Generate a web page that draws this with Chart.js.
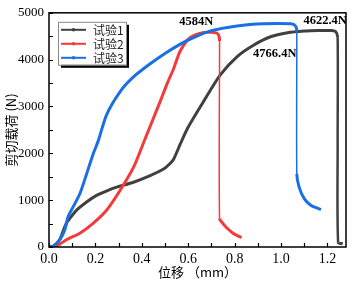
<!DOCTYPE html>
<html>
<head>
<meta charset="utf-8">
<script src="https://cdn.jsdelivr.net/npm/chart.js@4.4.0/dist/chart.umd.min.js"></script>
<style>
  html, body { margin: 0; padding: 0; background: #fff; }
  #wrap { width: 354px; height: 283px; }
</style>
</head>
<body>
<div id="wrap"><canvas id="c"></canvas></div>
<script>
// series names
var seriesNames = ['试验1', '试验2', '试验3'];

// 试验1 (black)
var t1X = [0, 0.02, 0.046, 0.06, 0.075, 0.09, 0.119, 0.162, 0.205, 0.25, 0.292, 0.364, 0.436, 0.494, 0.515, 0.537, 0.566, 0.60, 0.667, 0.739, 0.811, 0.883, 0.955, 1.028, 1.10, 1.16, 1.215, 1.235, 1.244, 1.244, 1.246, 1.266];
var t1Y = [0, 20, 154, 330, 506, 611, 786, 961, 1102, 1200, 1277, 1383, 1523, 1664, 1750, 1875, 2200, 2560, 3114, 3679, 4066, 4313, 4488, 4573, 4610, 4622, 4622, 4600, 4480, 2200, 100, 70];

// 试验2 (red)
var t2X = [0, 0.017, 0.04, 0.075, 0.133, 0.19, 0.248, 0.306, 0.364, 0.407, 0.45, 0.479, 0.51, 0.537, 0.566, 0.609, 0.667, 0.70, 0.725, 0.733, 0.735, 0.735, 0.75, 0.768, 0.797, 0.83];
var t2Y = [0, 0, 40, 154, 295, 506, 786, 1207, 1699, 2220, 2750, 3104, 3500, 3806, 4190, 4473, 4578, 4584, 4564, 4500, 4400, 611, 500, 400, 280, 202];

// 试验3 (blue)
var t3X = [0, 0.02, 0.046, 0.068, 0.082, 0.104, 0.133, 0.162, 0.19, 0.212, 0.248, 0.306, 0.364, 0.436, 0.508, 0.566, 0.609, 0.696, 0.811, 0.926, 1.042, 1.058, 1.066, 1.068, 1.068, 1.078, 1.10, 1.128, 1.172];
var t3Y = [0, 20, 154, 365, 645, 856, 1137, 1559, 1981, 2261, 2823, 3314, 3630, 3911, 4157, 4332, 4438, 4614, 4720, 4766, 4766, 4740, 4680, 4600, 1559, 1277, 1032, 891, 800];

// axes
var xTicks = [0, 0.2, 0.4, 0.6, 0.8, 1.0, 1.2];
var yTicks = [0, 1000, 2000, 3000, 4000, 5000];
var xMinor = [0.1, 0.3, 0.5, 0.7, 0.9, 1.1];
var yMinor = [500, 1500, 2500, 3500, 4500];

// peak labels [text, x, y]
var peakLabels = [['4584N', 0.635, 4800], ['4622.4N', 1.19, 4840], ['4766.4N', 0.973, 4130]];

function pts(xs, ys) { return xs.map(function(x, i){ return { x: x, y: ys[i] }; }); }

var colors = ['#404040', '#f23b3b', '#1a6fe3'];
var dropW = [2.5, 1.5, 1.5];

var serif = '"Liberation Serif", "Times New Roman", serif';
var cjk = '"Noto Sans CJK SC", sans-serif';

var decor = {
  id: 'decor',
  afterDatasetsDraw: function(chart) {
    var ctx = chart.ctx, a = chart.chartArea;
    var xs = chart.scales.x, ys = chart.scales.y;
    ctx.save();
    // frame
    ctx.strokeStyle = '#000';
    ctx.lineWidth = 1.5;
    ctx.strokeRect(a.left, a.top, a.right - a.left, a.bottom - a.top);
    // inward ticks
    ctx.lineWidth = 1.2;
    ctx.beginPath();
    xTicks.concat(xMinor).forEach(function(v){
      var px = Math.round(xs.getPixelForValue(v)) + 0.5;
      ctx.moveTo(px, a.bottom); ctx.lineTo(px, a.bottom - 4);
    });
    yTicks.concat(yMinor).forEach(function(v){
      var py = Math.round(ys.getPixelForValue(v)) + 0.5;
      ctx.moveTo(a.left, py); ctx.lineTo(a.left + 4, py);
    });
    ctx.stroke();

    // legend box with shadow
    var bx = a.left + 9, by = a.top + 9, bw = 68, bh = 43;
    ctx.fillStyle = '#000';
    ctx.fillRect(bx + 3, by + 3, bw, bh);
    ctx.fillStyle = '#fff';
    ctx.fillRect(bx, by, bw, bh);
    ctx.strokeStyle = '#8a8a8a';
    ctx.lineWidth = 1;
    ctx.strokeRect(bx + 0.5, by + 0.5, bw, bh);
    chart.data.datasets.forEach(function(ds, i){
      var ly = by + 8 + i * 14;
      ctx.strokeStyle = ds.borderColor;
      ctx.lineWidth = 2;
      ctx.beginPath(); ctx.moveTo(bx + 3, ly); ctx.lineTo(bx + 28, ly); ctx.stroke();
      ctx.fillStyle = ds.borderColor;
      ctx.beginPath(); ctx.arc(bx + 15.5, ly, 1.8, 0, Math.PI * 2); ctx.fill();
      ctx.fillStyle = '#222';
      ctx.font = '12px ' + cjk;
      ctx.textBaseline = 'middle';
      ctx.textAlign = 'left';
      ctx.fillText(ds.label, bx + 35, ly + 1);
    });

    // peak labels
    ctx.fillStyle = '#000';
    ctx.font = 'bold 12.5px ' + serif;
    ctx.textAlign = 'center';
    ctx.textBaseline = 'middle';
    peakLabels.forEach(function(p){
      ctx.fillText(p[0], xs.getPixelForValue(p[1]), ys.getPixelForValue(p[2]));
    });
    ctx.restore();
  }
};

function mkSet(i, xs, ys, order) {
  return {
    label: seriesNames[i],
    data: pts(xs, ys),
    borderColor: colors[i],
    backgroundColor: colors[i],
    borderWidth: 3,
    pointRadius: 0,
    tension: 0.25,
    fill: false,
    order: order,
    segment: {
      borderWidth: function(c){ return (c.p0.parsed.y - c.p1.parsed.y > 1000) ? dropW[i] : undefined; }
    }
  };
}

new Chart(document.getElementById('c'), {
  type: 'line',
  data: {
    datasets: [mkSet(0, t1X, t1Y, 2), mkSet(1, t2X, t2Y, 1), mkSet(2, t3X, t3Y, 0)]
  },
  options: {
    responsive: true, maintainAspectRatio: false, animation: false,
    layout: { padding: { top: 9, right: 8, left: 0, bottom: 0 } },
    plugins: { legend: { display: false }, tooltip: { enabled: false } },
    scales: {
      x: {
        type: 'linear', min: 0, max: 1.28,
        grid: { display: false, drawTicks: false }, border: { display: false },
        afterBuildTicks: function(s){ s.ticks = xTicks.map(function(v){ return { value: v }; }); },
        afterFit: function(s){ s.height = 36; },
        ticks: { padding: 4, color: '#000', font: { family: serif, size: 14 },
          callback: function(v){ return v.toFixed(1); } },
        title: { display: true, text: '位移 （mm）', color: '#000', font: { family: cjk, size: 13 }, padding: { top: 0, bottom: 3 } }
      },
      y: {
        min: 0, max: 5000,
        grid: { display: false, drawTicks: false }, border: { display: false },
        afterBuildTicks: function(s){ s.ticks = yTicks.map(function(v){ return { value: v }; }); },
        afterFit: function(s){ s.width = 49; },
        ticks: { padding: 5, color: '#000', font: { family: serif, size: 13 },
          callback: function(v){ return String(v); } },
        title: { display: true, text: '剪切载荷 (N)', color: '#000', font: { family: cjk, size: 13 }, padding: { top: 3, bottom: 0 } }
      }
    }
  },
  plugins: [decor]
});
</script>
</body>
</html>
